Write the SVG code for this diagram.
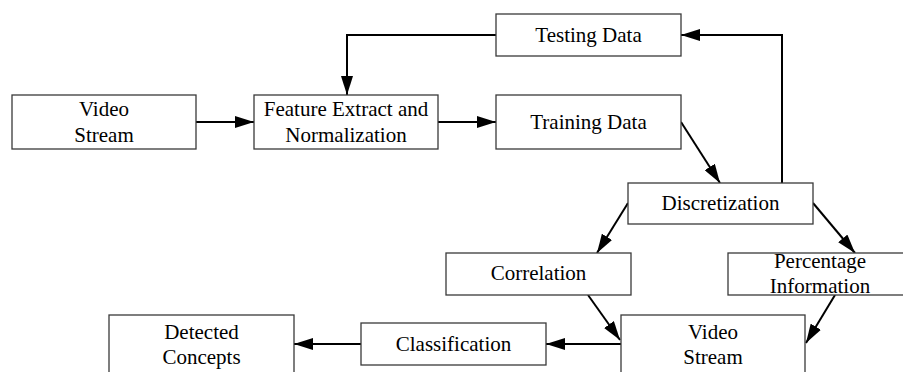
<svg xmlns="http://www.w3.org/2000/svg" width="903" height="372" viewBox="0 0 903 372">
<style>
.box{fill:#fff;stroke:#3a3a3a;stroke-width:1.3}
.t{font-family:"Liberation Serif","Times New Roman",serif;font-size:21px;text-anchor:middle;fill:#000}
.c{fill:none;stroke:#000;stroke-width:2}
</style>
<defs>
<marker id="ah" markerUnits="userSpaceOnUse" markerWidth="19" markerHeight="12" refX="19" refY="6" orient="auto">
<path d="M0,0 L19,6 L0,12 z" fill="#000"/>
</marker>
</defs>
<rect width="903" height="372" fill="#fff"/>
<g id="connectors">
<path class="c" d="M196,122 L254,122" marker-end="url(#ah)"/>
<path class="c" d="M438,122 L496,122" marker-end="url(#ah)"/>
<path class="c" d="M496,35 L347,35 L347,95" marker-end="url(#ah)"/>
<path class="c" d="M782,183 L782,35 L681,35" marker-end="url(#ah)"/>
<path class="c" d="M681,122 L720,183" marker-end="url(#ah)"/>
<path class="c" d="M628,203 L597,253" marker-end="url(#ah)"/>
<path class="c" d="M813,203 L855,253" marker-end="url(#ah)"/>
<path class="c" d="M588,295 L620,340" marker-end="url(#ah)"/>
<path class="c" d="M835,295 L806,343" marker-end="url(#ah)"/>
<path class="c" d="M621,344 L546,344" marker-end="url(#ah)"/>
<path class="c" d="M361,344 L294,344" marker-end="url(#ah)"/>
</g>
<g id="video-stream-1">
<rect class="box" x="12" y="95" width="184" height="54"/>
<text class="t" x="104" y="116">Video</text>
<text class="t" x="104" y="141.5">Stream</text>
</g>
<g id="feature-extract">
<rect class="box" x="254" y="95" width="184" height="54"/>
<text class="t" x="346" y="116">Feature Extract and</text>
<text class="t" x="346" y="141.5">Normalization</text>
</g>
<g id="testing-data">
<rect class="box" x="496" y="14" width="185" height="42"/>
<text class="t" x="588.5" y="42">Testing Data</text>
</g>
<g id="training-data">
<rect class="box" x="496" y="95" width="185" height="54"/>
<text class="t" x="588.5" y="128.5">Training Data</text>
</g>
<g id="discretization">
<rect class="box" x="628" y="183" width="185" height="41"/>
<text class="t" x="720.5" y="209.5">Discretization</text>
</g>
<g id="correlation">
<rect class="box" x="446" y="253" width="185" height="42"/>
<text class="t" x="538.5" y="280">Correlation</text>
</g>
<g id="percentage-information">
<rect class="box" x="728" y="253" width="184" height="42"/>
<text class="t" x="820" y="267.5">Percentage</text>
<text class="t" x="820" y="292.5">Information</text>
</g>
<g id="video-stream-2">
<rect class="box" x="621" y="315" width="184" height="70"/>
<text class="t" x="713" y="339">Video</text>
<text class="t" x="713" y="363.5">Stream</text>
</g>
<g id="classification">
<rect class="box" x="361" y="323" width="185" height="42"/>
<text class="t" x="453.5" y="351">Classification</text>
</g>
<g id="detected-concepts">
<rect class="box" x="109" y="315" width="185" height="70"/>
<text class="t" x="201.5" y="339">Detected</text>
<text class="t" x="201.5" y="363.5">Concepts</text>
</g>
</svg>
